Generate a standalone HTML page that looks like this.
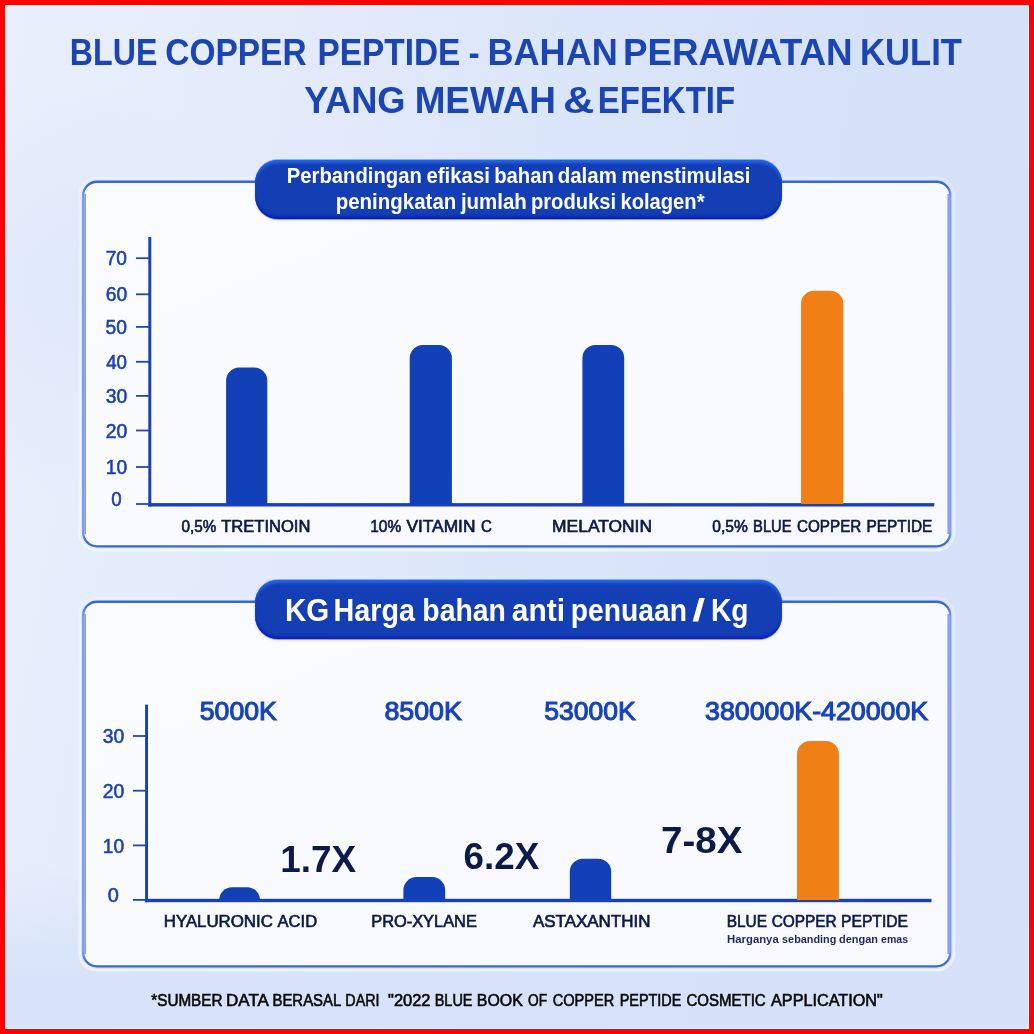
<!DOCTYPE html>
<html lang="id">
<head>
<meta charset="utf-8">
<title>Blue Copper Peptide</title>
<style>
*{box-sizing:border-box;margin:0;padding:0}
html,body{width:1034px;height:1034px;overflow:hidden;background:#ff0000}
body{position:relative;font-family:"Liberation Sans",sans-serif}
#page{position:absolute;left:0;top:0;width:1034px;height:1034px;background:#ff0000;overflow:hidden}
#bg{position:absolute;left:5px;top:5px;width:1024px;height:1024px;overflow:hidden;
 background:
  linear-gradient(to bottom, rgba(214,226,249,0) 0%, rgba(214,226,249,0) 84%, rgba(214,226,249,0.9) 96%, rgba(214,226,249,0.9) 100%),
  radial-gradient(ellipse 260px 300px at 60px 280px, rgba(221,231,250,0.8), rgba(221,231,250,0) 70%),
  linear-gradient(100deg,#e9effc 0%,#e5ecfb 18%,#dce6fa 48%,#d6e2f9 72%,#d5e1f8 100%);
 box-shadow:inset 0 0 0 1px rgba(230,252,255,0.9)}
.pill{position:absolute;border-radius:23px;background:#143eb4;
 box-shadow:inset 0 4px 3px -1px #2265e8, inset 0 -3.5px 3px -1px #0a1fb0, 0 -1px 0 rgba(40,105,235,0.45), 0 1px 0 rgba(10,31,176,0.35), 0 1px 3px rgba(20,50,160,0.2)}
.g{position:absolute;left:0;top:0;width:0;height:0;margin:0;padding:0;font-size:16px;font-weight:400;line-height:1}
.t{position:absolute;display:block;white-space:nowrap;line-height:1;transform-origin:0 50%;font-family:"Liberation Sans",sans-serif}
.s1{font-size:36px;font-weight:700;color:#1b45b5;}
.s2{font-size:22px;font-weight:700;color:#ffffff;}
.s3{font-size:20px;font-weight:400;color:#1c41b2;-webkit-text-stroke:0.55px #1c41b2;}
.s4{font-size:16px;font-weight:400;color:#0b1a48;-webkit-text-stroke:0.65px #0b1a48;}
.s5{font-size:31px;font-weight:700;color:#ffffff;}
.s6{font-size:26px;font-weight:400;color:#1743bd;-webkit-text-stroke:1.1px #1743bd;}
.s7{font-size:36px;font-weight:700;color:#0b1a48;}
.s8{font-size:16.5px;font-weight:400;color:#0b1a48;-webkit-text-stroke:0.65px #0b1a48;}
.s9{font-size:11.5px;font-weight:700;color:#1a295e;}
.s10{font-size:16px;font-weight:400;color:#0a0a0a;-webkit-text-stroke:0.6px #0a0a0a;}
#charts{position:absolute;left:0;top:0}
</style>
</head>
<body>
<div id="page">
<div id="bg"></div>

<svg id="charts" width="1034" height="1034" viewBox="0 0 1034 1034">
<defs>
<linearGradient id="pf" x1="0" y1="0" x2="1" y2="1"><stop offset="0" stop-color="#fbfcff"/><stop offset="1" stop-color="#f8f9ff"/></linearGradient>
<linearGradient id="pg" x1="0" y1="0" x2="0" y2="1"><stop offset="0" stop-color="#f6f9ff" stop-opacity="0.3"/><stop offset="0.9" stop-color="#f6f9ff" stop-opacity="0.45"/><stop offset="1" stop-color="#f6f9ff" stop-opacity="0.75"/></linearGradient>
<linearGradient id="ps" x1="0" y1="0" x2="0" y2="1"><stop offset="0" stop-color="#3866dd"/><stop offset="0.012" stop-color="#3d69de"/><stop offset="0.042" stop-color="#7f9de9"/><stop offset="0.958" stop-color="#7f9de9"/><stop offset="0.988" stop-color="#3d69de"/><stop offset="1" stop-color="#3866dd"/></linearGradient>
</defs>
<rect x="79.4" y="178.0" width="874.6" height="372.1" rx="17.6" fill="none" stroke="url(#pg)" stroke-width="2.8"/><rect x="83.15" y="181.75" width="867.10" height="364.60" rx="13.85" fill="url(#pf)" stroke="url(#ps)" stroke-width="2.3"/><rect x="84.20" y="194.1" width="1.8" height="339.9" fill="#84a0ea"/><rect x="947.40" y="194.1" width="1.8" height="339.9" fill="#84a0ea"/>
<rect x="79.4" y="598.0" width="874.6" height="372.1" rx="17.6" fill="none" stroke="url(#pg)" stroke-width="2.8"/><rect x="83.15" y="601.75" width="867.10" height="364.60" rx="13.85" fill="url(#pf)" stroke="url(#ps)" stroke-width="2.3"/><rect x="84.20" y="614.1" width="1.8" height="339.9" fill="#84a0ea"/><rect x="947.40" y="614.1" width="1.8" height="339.9" fill="#84a0ea"/>
<rect fill="#1841b6" x="148.3" y="236.9" width="3" height="269.6"/>
<rect fill="#1841b6" x="148.3" y="503.1" width="786" height="3.4"/>
<rect fill="#1f47b9" x="136" y="257.3" width="13" height="1.8"/>
<rect fill="#1f47b9" x="136" y="293.4" width="13" height="1.8"/>
<rect fill="#1f47b9" x="136" y="326.0" width="13" height="1.8"/>
<rect fill="#1f47b9" x="136" y="360.9" width="13" height="1.8"/>
<rect fill="#1f47b9" x="136" y="395.0" width="13" height="1.8"/>
<rect fill="#1f47b9" x="136" y="429.6" width="13" height="1.8"/>
<rect fill="#1f47b9" x="136" y="466.1" width="13" height="1.8"/>
<rect fill="#1f47b9" x="136" y="503.1" width="13" height="1.8"/>
<path fill="#1240b7" d="M226.1,504.0V380.6A13.0,13.0 0 0 1 239.1,367.6H254.3A13.0,13.0 0 0 1 267.3,380.6V504.0Z"/>
<path fill="#1240b7" d="M409.7,504.0V358.1A13.0,13.0 0 0 1 422.7,345.1H438.9A13.0,13.0 0 0 1 451.9,358.1V504.0Z"/>
<path fill="#1240b7" d="M582.4,504.0V358.0A13.0,13.0 0 0 1 595.4,345.0H611.2A13.0,13.0 0 0 1 624.2,358.0V504.0Z"/>
<path fill="#f08015" d="M801.0,504.0V303.8A13.0,13.0 0 0 1 814.0,290.8H830.3A13.0,13.0 0 0 1 843.3,303.8V504.0Z"/>
<rect fill="#1841b6" x="145.1" y="704.6" width="2.9" height="197.6"/>
<rect fill="#1841b6" x="145.1" y="898.8" width="786.4" height="3.4"/>
<rect fill="#1f47b9" x="132.9" y="735.1" width="13" height="1.8"/>
<rect fill="#1f47b9" x="132.9" y="789.8" width="13" height="1.8"/>
<rect fill="#1f47b9" x="132.9" y="844.5" width="13" height="1.8"/>
<rect fill="#1f47b9" x="132.9" y="899.0" width="13" height="1.8"/>
<path fill="#1240b7" d="M219.2,900.0V900.0A12.8,12.8 0 0 1 232.0,887.2H247.2A12.8,12.8 0 0 1 260.0,900.0V900.0Z"/>
<path fill="#1240b7" d="M403.4,900.0V890.1A13.0,13.0 0 0 1 416.4,877.1H432.2A13.0,13.0 0 0 1 445.2,890.1V900.0Z"/>
<path fill="#1240b7" d="M569.8,900.0V871.7A13.0,13.0 0 0 1 582.8,858.7H598.2A13.0,13.0 0 0 1 611.2,871.7V900.0Z"/>
<path fill="#f08015" d="M797.0,900.0V754.0A13.0,13.0 0 0 1 810.0,741.0H825.9A13.0,13.0 0 0 1 838.9,754.0V900.0Z"/>
</svg>
<div class="pill" style="left:255px;top:160px;width:527px;height:59px"></div>
<div class="pill" style="left:255px;top:580px;width:527px;height:59px"></div>
<h1 class="g"><span id="ta0" class="t s1" style="left:69px;top:35px;transform:translateX(0.87px) scaleX(0.8931)">BLUE</span> <span id="ta1" class="t s1" style="left:165px;top:35px;transform:translateX(0.25px) scaleX(0.9294)">COPPER</span> <span id="ta2" class="t s1" style="left:317px;top:35px;transform:translateX(0.42px) scaleX(0.9282)">PEPTIDE</span> <span id="ta3" class="t s1" style="left:468px;top:35px;transform:translateX(0.62px) scaleX(0.9342)">-</span> <span id="ta4" class="t s1" style="left:487px;top:35px;transform:translateX(0.48px) scaleX(1.0025)">BAHAN</span> <span id="ta5" class="t s1" style="left:622px;top:35px;transform:translateX(0.95px) scaleX(1.0222)">PERAWATAN</span> <span id="ta6" class="t s1" style="left:860px;top:35px;transform:translateX(0.12px) scaleX(0.9612)">KULIT</span> <span id="tb0" class="t s1" style="left:304px;top:83px;transform:translateX(0.18px) scaleX(1.0067)">YANG</span> <span id="tb1" class="t s1" style="left:414px;top:83px;transform:translateX(0.65px) scaleX(1.0239)">MEWAH</span> <span id="tb2" class="t s1" style="left:563px;top:83px;transform:translateX(0.01px) scaleX(1.2045)">&amp;</span> <span id="tb3" class="t s1" style="left:597px;top:83px;transform:translateX(0.84px) scaleX(0.9146)">EFEKTIF</span></h1>
<h2 class="g"><span id="pa0" class="t s2" style="left:286px;top:165px;transform:translateX(0.84px) scaleX(0.9204)">Perbandingan</span> <span id="pa1" class="t s2" style="left:426px;top:165px;transform:translateX(0.46px) scaleX(0.9267)">efikasi</span> <span id="pa2" class="t s2" style="left:494px;top:165px;transform:translateX(0.15px) scaleX(0.9216)">bahan</span> <span id="pa3" class="t s2" style="left:557px;top:165px;transform:translateX(0.76px) scaleX(0.9291)">dalam</span> <span id="pa4" class="t s2" style="left:621px;top:165px;transform:translateX(0.56px) scaleX(0.9164)">menstimulasi</span> <span id="pb0" class="t s2" style="left:335px;top:191px;transform:translateX(0.68px) scaleX(0.9308)">peningkatan</span> <span id="pb1" class="t s2" style="left:460px;top:191px;transform:translateX(0.93px) scaleX(0.9300)">jumlah</span> <span id="pb2" class="t s2" style="left:530px;top:191px;transform:translateX(0.92px) scaleX(0.9178)">produksi</span> <span id="pb3" class="t s2" style="left:620px;top:191px;transform:translateX(0.49px) scaleX(0.9159)">kolagen*</span></h2>
<div class="g"><span id="ka0_0" class="t s3" style="left:105px;top:248px;transform:translateX(0.71px) scaleX(0.9570)">70</span> <span id="ka1_0" class="t s3" style="left:105px;top:284px;transform:translateX(0.67px) scaleX(0.9654)">60</span> <span id="ka2_0" class="t s3" style="left:105px;top:317px;transform:translateX(0.55px) scaleX(0.9632)">50</span> <span id="ka3_0" class="t s3" style="left:106px;top:352px;transform:translateX(0.19px) scaleX(0.9373)">40</span> <span id="ka4_0" class="t s3" style="left:105px;top:386px;transform:translateX(0.72px) scaleX(0.9636)">30</span> <span id="ka5_0" class="t s3" style="left:105px;top:421px;transform:translateX(0.70px) scaleX(0.9667)">20</span> <span id="ka6_0" class="t s3" style="left:105px;top:457px;transform:translateX(0.74px) scaleX(0.9578)">10</span> <span id="ka7_0" class="t s3" style="left:111px;top:489px;transform:translateX(0.32px) scaleX(0.9355)">0</span></div>
<div class="g"><span id="xa0" class="t s4" style="left:181px;top:519px;transform:translateX(0.50px) scaleX(0.9550)">0,5%</span> <span id="xa1" class="t s4" style="left:221px;top:519px;transform:translateX(0.26px) scaleX(1.0334)">TRETINOIN</span></div>
<div class="g"><span id="xb0" class="t s4" style="left:370px;top:519px;transform:translateX(0.26px) scaleX(0.9649)">10%</span> <span id="xb1" class="t s4" style="left:406px;top:519px;transform:translateX(0.41px) scaleX(1.0835)">VITAMIN</span> <span id="xb2" class="t s4" style="left:480px;top:519px;transform:translateX(0.97px) scaleX(0.9374)">C</span></div>
<div class="g"><span id="xc0" class="t s4" style="left:552px;top:519px;transform:translateX(0.11px) scaleX(1.0873)">MELATONIN</span></div>
<div class="g"><span id="xd0" class="t s4" style="left:712px;top:519px;transform:translateX(0.36px) scaleX(0.9727)">0,5%</span> <span id="xd1" class="t s4" style="left:753px;top:519px;transform:translateX(0.12px) scaleX(0.9190)">BLUE</span> <span id="xd2" class="t s4" style="left:796px;top:519px;transform:translateX(0.95px) scaleX(0.9525)">COPPER</span> <span id="xd3" class="t s4" style="left:866px;top:519px;transform:translateX(0.48px) scaleX(0.9622)">PEPTIDE</span></div>
<h2 class="g"><span id="pc0" class="t s5" style="left:285px;top:595px;transform:translateX(0.03px) scaleX(0.9510)">KG</span> <span id="pc1" class="t s5" style="left:333px;top:595px;transform:translateX(0.59px) scaleX(0.9268)">Harga</span> <span id="pc2" class="t s5" style="left:422px;top:595px;transform:translateX(0.31px) scaleX(0.9151)">bahan</span> <span id="pc3" class="t s5" style="left:511px;top:595px;transform:translateX(0.79px) scaleX(0.9643)">anti</span> <span id="pc4" class="t s5" style="left:570px;top:595px;transform:translateX(0.77px) scaleX(0.9112)">penuaan</span> <span id="pc5" class="t s5" style="left:692px;top:595px;transform:translateX(0.34px) scaleX(1.4920)">/</span> <span id="pc6" class="t s5" style="left:710px;top:595px;transform:translateX(0.90px) scaleX(0.9069)">Kg</span></h2>
<div class="g"><span id="v0" class="t s6" style="left:199px;top:698px;transform:translateX(0.78px) scaleX(1.0254)">5000K</span></div>
<div class="g"><span id="v1" class="t s6" style="left:384px;top:698px;transform:translateX(0.39px) scaleX(1.0298)">8500K</span></div>
<div class="g"><span id="v2" class="t s6" style="left:544px;top:698px;transform:translateX(0.29px) scaleX(1.0207)">53000K</span></div>
<div class="g"><span id="v3" class="t s6" style="left:705px;top:698px;transform:translateX(0.07px) scaleX(1.0289)">380000K-420000K</span></div>
<div class="g"><span id="ma0" class="t s7" style="left:280px;top:842px;transform:translateX(0.26px) scaleX(1.0263)">1.7X</span></div>
<div class="g"><span id="mb0" class="t s7" style="left:463px;top:839px;transform:translateX(0.53px) scaleX(1.0222)">6.2X</span></div>
<div class="g"><span id="mc0" class="t s7" style="left:661px;top:823px;transform:translateX(0.00px) scaleX(1.0712)">7-8X</span></div>
<div class="g"><span id="kb0_0" class="t s3" style="left:102px;top:726px;transform:translateX(0.72px) scaleX(0.9636)">30</span> <span id="kb1_0" class="t s3" style="left:102px;top:781px;transform:translateX(0.70px) scaleX(0.9667)">20</span> <span id="kb2_0" class="t s3" style="left:102px;top:836px;transform:translateX(0.74px) scaleX(0.9578)">10</span> <span id="kb3_0" class="t s3" style="left:107px;top:885px;transform:translateX(0.82px) scaleX(0.9963)">0</span></div>
<div class="g"><span id="ya0" class="t s8" style="left:163px;top:913px;transform:translateX(0.77px) scaleX(1.0191)">HYALURONIC</span> <span id="ya1" class="t s8" style="left:277px;top:913px;transform:translateX(0.57px) scaleX(1.0026)">ACID</span></div>
<div class="g"><span id="yb0" class="t s8" style="left:371px;top:913px;transform:translateX(0.21px) scaleX(0.9928)">PRO-XYLANE</span></div>
<div class="g"><span id="yc0" class="t s8" style="left:532px;top:913px;transform:translateX(0.94px) scaleX(1.0281)">ASTAXANTHIN</span></div>
<div class="g"><span id="yd0" class="t s8" style="left:726px;top:913px;transform:translateX(0.69px) scaleX(0.9356)">BLUE</span> <span id="yd1" class="t s8" style="left:771px;top:913px;transform:translateX(0.63px) scaleX(0.9346)">COPPER</span> <span id="yd2" class="t s8" style="left:840px;top:913px;transform:translateX(0.97px) scaleX(0.9503)">PEPTIDE</span></div>
<div class="g"><span id="ye0" class="t s9" style="left:727px;top:934px;transform:translateX(0.07px) scaleX(0.9851)">Harganya</span> <span id="ye1" class="t s9" style="left:782px;top:934px;transform:translateX(0.08px) scaleX(0.9428)">sebanding</span> <span id="ye2" class="t s9" style="left:838px;top:934px;transform:translateX(0.97px) scaleX(0.9541)">dengan</span> <span id="ye3" class="t s9" style="left:881px;top:934px;transform:translateX(0.07px) scaleX(0.9187)">emas</span></div>
<p class="g"><span id="f0" class="t s10" style="left:151px;top:993px;transform:translateX(0.28px) scaleX(0.9535)">*SUMBER</span> <span id="f1" class="t s10" style="left:226px;top:993px;transform:translateX(0.03px) scaleX(1.0624)">DATA</span> <span id="f2" class="t s10" style="left:272px;top:993px;transform:translateX(0.45px) scaleX(0.9334)">BERASAL</span> <span id="f3" class="t s10" style="left:345px;top:993px;transform:translateX(0.37px) scaleX(0.8923)">DARI</span> <span id="f4" class="t s10" style="left:388px;top:993px;transform:translateX(0.08px) scaleX(1.0269)">"2022</span> <span id="f5" class="t s10" style="left:434px;top:993px;transform:translateX(0.66px) scaleX(0.9063)">BLUE</span> <span id="f6" class="t s10" style="left:476px;top:993px;transform:translateX(0.83px) scaleX(0.9937)">BOOK</span> <span id="f7" class="t s10" style="left:528px;top:993px;transform:translateX(0.04px) scaleX(0.8579)">OF</span> <span id="f8" class="t s10" style="left:552px;top:993px;transform:translateX(0.67px) scaleX(0.9116)">COPPER</span> <span id="f9" class="t s10" style="left:619px;top:993px;transform:translateX(0.72px) scaleX(0.9009)">PEPTIDE</span> <span id="f10" class="t s10" style="left:686px;top:993px;transform:translateX(0.49px) scaleX(0.9379)">COSMETIC</span> <span id="f11" class="t s10" style="left:771px;top:993px;transform:translateX(0.01px) scaleX(1.0136)">APPLICATION"</span></p>
</div>
</body>
</html>
